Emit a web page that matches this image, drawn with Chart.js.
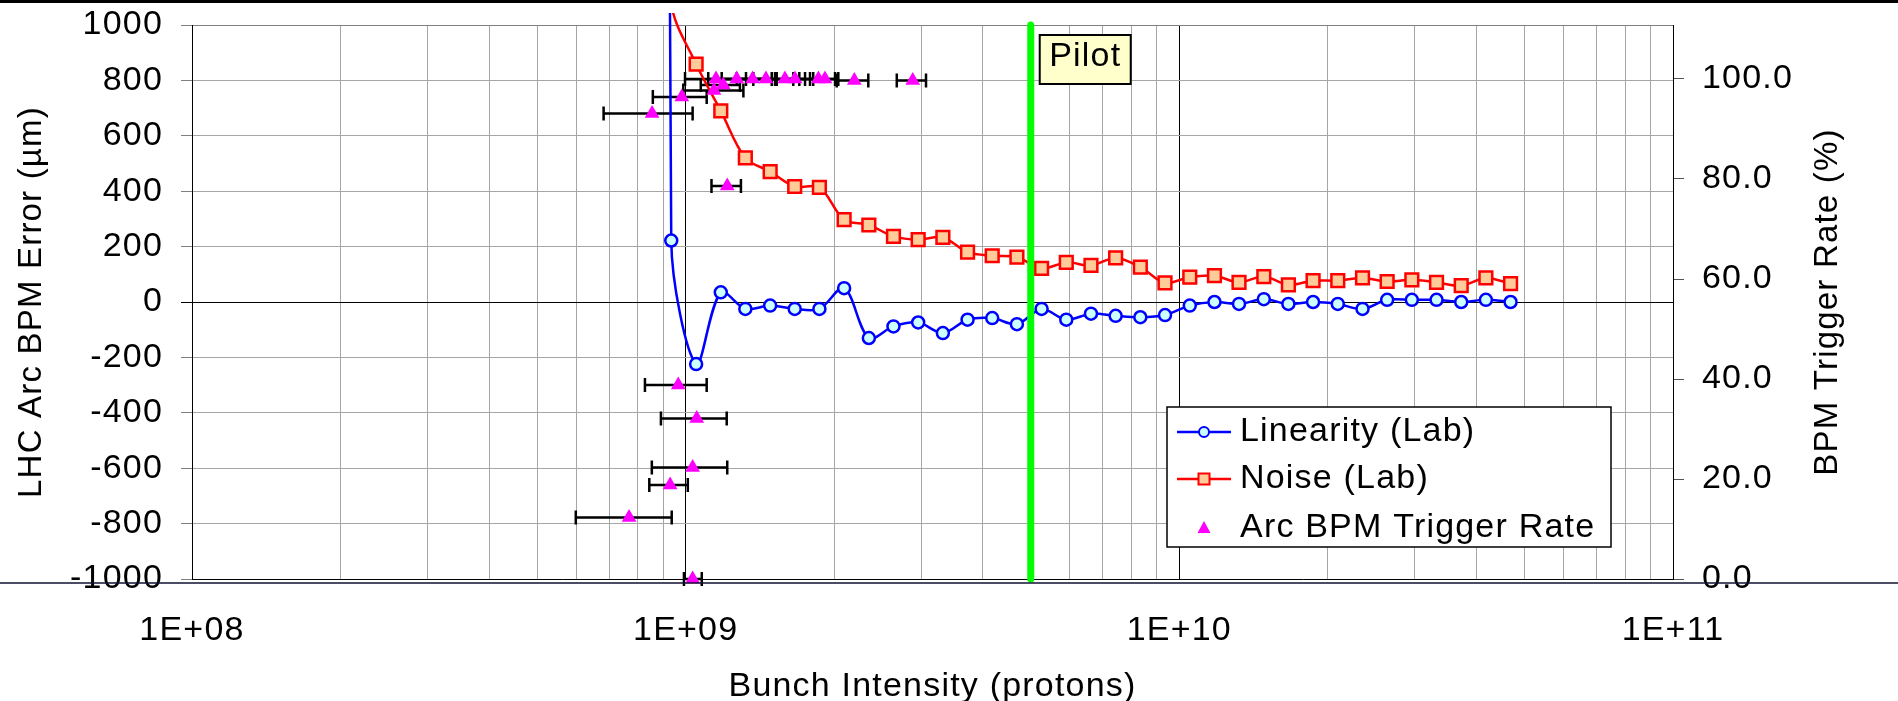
<!DOCTYPE html>
<html>
<head>
<meta charset="utf-8">
<script src="https://cdn.jsdelivr.net/npm/chart.js@4.4.1/dist/chart.umd.min.js"></script>
<style>
html,body{margin:0;padding:0;background:#fff;overflow:hidden;}
canvas{display:block;}
</style>
</head>
<body>
<canvas id="c" width="1898" height="701"></canvas>
<script>
// ---------------- DATA ----------------
// bunch intensity (protons) of the lab measurements
const intensity = [8.34e8, 9.35e8, 1.05e9, 1.178e9, 1.321e9, 1.483e9, 1.663e9, 1.866e9, 2.094e9,
  2.35e9, 2.636e9, 2.958e9, 3.319e9, 3.724e9, 4.178e9, 4.688e9, 5.26e9, 5.902e9, 6.622e9,
  7.43e9, 8.337e9, 9.354e9, 1.05e10, 1.178e10, 1.321e10, 1.483e10, 1.663e10, 1.866e10,
  2.094e10, 2.35e10, 2.636e10, 2.958e10, 3.319e10, 3.724e10, 4.178e10, 4.688e10];
// Linearity (Lab), um  (first value lies far above the axis range)
const linearity = [20000, 222, -224, 35, -25, -13, -25, -25, 50, -130, -88, -74, -112, -64, -58, -80,
  -25, -64, -42, -50, -55, -47, -13, 0, -7, 10, -7, 0, -7, -25, 8, 8, 8, 0, 8, 0];
// Noise (Lab), um  (first two values lie above the axis range)
const noise = [2500, 1080, 859, 690, 520, 471, 417, 414, 297, 278, 237, 225, 233, 180, 167, 162,
  121, 143, 132, 159, 126, 69, 90, 95, 71, 92, 62, 77, 77, 87, 74, 80, 71, 59, 87, 66];

// Arc BPM trigger rate (%) with horizontal error bars on intensity
const trigX    = [8.55e8, 9.82e8, 1.141e9, 1.192e9, 1.152e9, 1.269e9, 1.366e9, 1.454e9, 1.589e9, 1.665e9,
  1.857e9, 1.915e9, 2.196e9, 2.884e9, 1.214e9, 9.66e8, 1.053e9, 1.033e9, 9.30e8, 7.68e8, 1.033e9];
const trigRate = [93.1, 96.4, 97.7, 98.8, 100, 100, 100, 100, 100, 100,
  100, 100, 99.7, 99.7, 78.6, 38.8, 32.1, 22.3, 18.8, 12.3, 0];
const trigLow  = [6.82e8, 8.58e8, 9.89e8, 1.073e9, 9.97e8, 1.111e9, 1.183e9, 1.269e9, 1.371e9, 1.529e9,
  1.699e9, 1.786e9, 2.023e9, 2.677e9, 1.128e9, 8.27e8, 8.91e8, 8.54e8, 8.44e8, 5.99e8, 9.92e8];
const trigHigh = [1.033e9, 1.103e9, 1.309e9, 1.288e9, 1.325e9, 1.494e9, 1.517e9, 1.652e9, 1.745e9, 1.813e9,
  2.007e9, 2.038e9, 2.344e9, 3.068e9, 1.294e9, 1.103e9, 1.211e9, 1.214e9, 1.010e9, 9.37e8, 1.078e9];

const pilotIntensity = 5e9;
const pilotLabel = 'Pilot';

const xTickValues = [1e8, 1e9, 1e10, 1e11];
const xTickLabels = ['1E+08', '1E+09', '1E+10', '1E+11'];
const rateTicks = [0, 20, 40, 60, 80, 100];

const seriesLabels = ['Linearity (Lab)', 'Noise (Lab)', 'Arc BPM Trigger Rate'];
const titleLeft = 'LHC Arc BPM Error (\u00b5m)';
const titleRight = 'BPM Trigger Rate (%)';
const titleBottom = 'Bunch Intensity (protons)';

// ---------------- CHART ----------------
const FONT = '"Liberation Sans", Arial, sans-serif';
const SPACING = '1.2px';
Chart.defaults.font.family = FONT;
Chart.defaults.color = '#000';

// minor log gridlines (1..9 x 10^n)
const xGrid = [];
for (let e = 8; e <= 10; e++) for (let m = 1; m <= 9; m++) xGrid.push(m * Math.pow(10, e));
xGrid.push(1e11);

const BLUE = '#0000ff', RED = '#ff0000', MAG = '#ff00ff';

function noPad(s) { s.paddingTop = 0; s.paddingBottom = 0; s.paddingLeft = 0; s.paddingRight = 0; }

const decor = {
  id: 'decor',
  beforeDraw(chart) {
    try { chart.ctx.letterSpacing = SPACING; } catch (e) {}
  },
  beforeDatasetsDraw(chart) {
    const ctx = chart.ctx, xs = chart.scales.x, ys = chart.scales.y2;
    ctx.save();
    ctx.strokeStyle = '#000';
    ctx.lineWidth = 2.5;
    for (let i = 0; i < trigX.length; i++) {
      const y = ys.getPixelForValue(trigRate[i]);
      const x1 = xs.getPixelForValue(trigLow[i]);
      const x2 = xs.getPixelForValue(trigHigh[i]);
      ctx.beginPath();
      ctx.moveTo(x1, y); ctx.lineTo(x2, y);
      ctx.moveTo(x1, y - 7); ctx.lineTo(x1, y + 7);
      ctx.moveTo(x2, y - 7); ctx.lineTo(x2, y + 7);
      ctx.stroke();
    }
    ctx.restore();
  },
  afterDatasetsDraw(chart) {
    const ctx = chart.ctx, xs = chart.scales.x, a = chart.chartArea;
    const px = xs.getPixelForValue(pilotIntensity);
    ctx.save();
    ctx.strokeStyle = '#00ff00';
    ctx.lineWidth = 7;
    ctx.lineCap = 'round';
    ctx.beginPath();
    ctx.moveTo(px, a.top); ctx.lineTo(px, a.bottom);
    ctx.stroke();
    // label box
    const bx = px + 9, by = a.top + 10, bw = 91, bh = 49;
    ctx.fillStyle = '#ffffcc';
    ctx.fillRect(bx, by, bw, bh);
    ctx.strokeStyle = '#000';
    ctx.lineWidth = 2;
    ctx.strokeRect(bx, by, bw, bh);
    ctx.fillStyle = '#000';
    ctx.font = '34px ' + FONT;
    ctx.textAlign = 'center';
    ctx.textBaseline = 'middle';
    ctx.fillText(pilotLabel, bx + bw / 2, by + 22);
    ctx.restore();
  },
  afterDraw(chart) {
    const ctx = chart.ctx, a = chart.chartArea, W = chart.width;
    ctx.save();
    // right axis title (reads bottom to top)
    ctx.fillStyle = '#000';
    ctx.font = '33px ' + FONT;
    ctx.textAlign = 'center';
    ctx.textBaseline = 'middle';
    ctx.translate(a.right + 155, (a.top + a.bottom) / 2);
    ctx.rotate(-Math.PI / 2);
    ctx.fillText(titleRight, 0, 0);
    ctx.setTransform(1, 0, 0, 1, 0, 0);

    // legend
    const L = {x: 1167, y: 407, w: 444, h: 140};
    ctx.fillStyle = '#fff';
    ctx.fillRect(L.x, L.y, L.w, L.h);
    ctx.strokeStyle = '#000';
    ctx.lineWidth = 1.5;
    ctx.strokeRect(L.x, L.y, L.w, L.h);
    const rows = [L.y + 25, L.y + 72, L.y + 121];
    const mx = L.x + 37;
    ctx.font = '34px ' + FONT;
    ctx.textAlign = 'left';
    ctx.textBaseline = 'middle';
    for (let i = 0; i < 3; i++) {
      const y = rows[i];
      if (i < 2) {
        ctx.strokeStyle = i === 0 ? BLUE : RED;
        ctx.lineWidth = 2.5;
        ctx.beginPath(); ctx.moveTo(L.x + 10, y); ctx.lineTo(L.x + 64, y); ctx.stroke();
      }
      if (i === 0) {
        ctx.beginPath(); ctx.arc(mx, y, 5, 0, Math.PI * 2);
        ctx.fillStyle = '#ccffff'; ctx.fill();
        ctx.strokeStyle = BLUE; ctx.lineWidth = 2; ctx.stroke();
      } else if (i === 1) {
        ctx.fillStyle = '#ffcc99'; ctx.fillRect(mx - 5.5, y - 5.5, 11, 11);
        ctx.strokeStyle = RED; ctx.lineWidth = 2; ctx.strokeRect(mx - 5.5, y - 5.5, 11, 11);
      } else {
        ctx.fillStyle = MAG;
        ctx.beginPath(); ctx.moveTo(mx, y - 7); ctx.lineTo(mx + 6.5, y + 5); ctx.lineTo(mx - 6.5, y + 5); ctx.closePath(); ctx.fill();
      }
      ctx.fillStyle = '#000';
      ctx.fillText(chart.data.datasets[i].label, L.x + 73, y);
    }

    // frame lines of the original picture
    ctx.fillStyle = '#000';
    ctx.fillRect(0, 0, W, 3);
    ctx.strokeStyle = '#101030';
    ctx.lineWidth = 1.5;
    ctx.beginPath(); ctx.moveTo(0, a.bottom + 4); ctx.lineTo(W, a.bottom + 4); ctx.stroke();
    ctx.restore();
  }
};

new Chart(document.getElementById('c'), {
  type: 'line',
  data: {
    datasets: [
      {
        label: seriesLabels[0],
        data: intensity.map((x, i) => ({x, y: linearity[i]})),
        yAxisID: 'y',
        borderColor: BLUE, borderWidth: 2.5, backgroundColor: '#ccffff',
        pointStyle: 'circle',
        pointRadius: c => (c.raw && Math.abs(c.raw.y) > 1000) ? 0 : 6,
        pointBackgroundColor: '#ccffff', pointBorderColor: BLUE, pointBorderWidth: 2.5,
        tension: 0.33, fill: false,
        clip: {left: 0, top: 12, right: 0, bottom: 0},
        order: 3
      },
      {
        label: seriesLabels[1],
        data: intensity.map((x, i) => ({x, y: noise[i]})),
        yAxisID: 'y',
        borderColor: RED, borderWidth: 2.5, backgroundColor: '#ffcc99',
        pointStyle: 'rect',
        pointRadius: c => (c.raw && Math.abs(c.raw.y) > 1000) ? 0 : 9,
        pointBackgroundColor: '#ffcc99', pointBorderColor: RED, pointBorderWidth: 2.5,
        tension: 0.33, fill: false,
        clip: {left: 0, top: 12, right: 0, bottom: 0},
        order: 2
      },
      {
        label: seriesLabels[2],
        data: trigX.map((x, i) => ({x, y: trigRate[i]})),
        yAxisID: 'y2',
        showLine: false,
        borderColor: MAG, backgroundColor: MAG,
        pointStyle: 'triangle', pointRadius: 8.5,
        pointBackgroundColor: MAG, pointBorderWidth: 0,
        clip: false,
        order: 1
      }
    ]
  },
  options: {
    responsive: false,
    animation: false,
    devicePixelRatio: 1,
    layout: {padding: {top: 25, left: 0, right: 0, bottom: 0}},
    elements: {line: {capBezierPoints: false}},
    plugins: {legend: {display: false}, tooltip: {enabled: false}},
    scales: {
      x: {
        type: 'logarithmic', position: 'bottom', min: 1e8, max: 1e11,
        afterBuildTicks: s => { s.ticks = xGrid.map(v => ({value: v})); },
        afterFit: s => { s.height = 122; noPad(s); },
        ticks: {
          autoSkip: false, maxRotation: 0, minRotation: 0, padding: 31,
          font: {size: 34}, color: '#000',
          callback: v => { const i = xTickValues.indexOf(v); return i >= 0 ? xTickLabels[i] : ''; }
        },
        grid: {
          drawTicks: false, lineWidth: 1,
          color: c => xTickValues.includes(c.tick.value) ? '#000' : '#a6a6a6'
        },
        border: {color: '#000', width: 1},
        title: {display: true, text: titleBottom, color: '#000', font: {size: 34, lineHeight: 0.85}, padding: {top: 0, bottom: 0}}
      },
      y: {
        type: 'linear', position: 'left', min: -1000, max: 1000,
        afterFit: s => { s.width = 192; noPad(s); },
        ticks: {stepSize: 200, padding: 18, font: {size: 34}, color: '#000', callback: v => String(v)},
        grid: {
          tickLength: 11,
          color: c => c.tick.value === 0 ? '#000' : (c.tick.value === 1000 ? '#808080' : '#a6a6a6'),
          tickColor: c => c.tick.value === 0 ? '#000' : '#808080'
        },
        border: {color: '#000', width: 1},
        title: {display: true, text: titleLeft, color: '#000', font: {size: 33, lineHeight: 1}, padding: {top: 15, bottom: 0}}
      },
      y2: {
        type: 'linear', position: 'right', min: 0, max: 110.8,
        afterBuildTicks: s => { s.ticks = rateTicks.map(v => ({value: v})); },
        afterFit: s => { s.width = 225; noPad(s); },
        ticks: {padding: 18, font: {size: 34}, color: '#000', callback: v => Number(v).toFixed(1)},
        grid: {drawOnChartArea: false, tickLength: 11, color: '#555', tickColor: '#555'},
        border: {color: '#000', width: 1},
        title: {display: false}
      }
    }
  },
  plugins: [decor]
});
</script>
</body>
</html>
